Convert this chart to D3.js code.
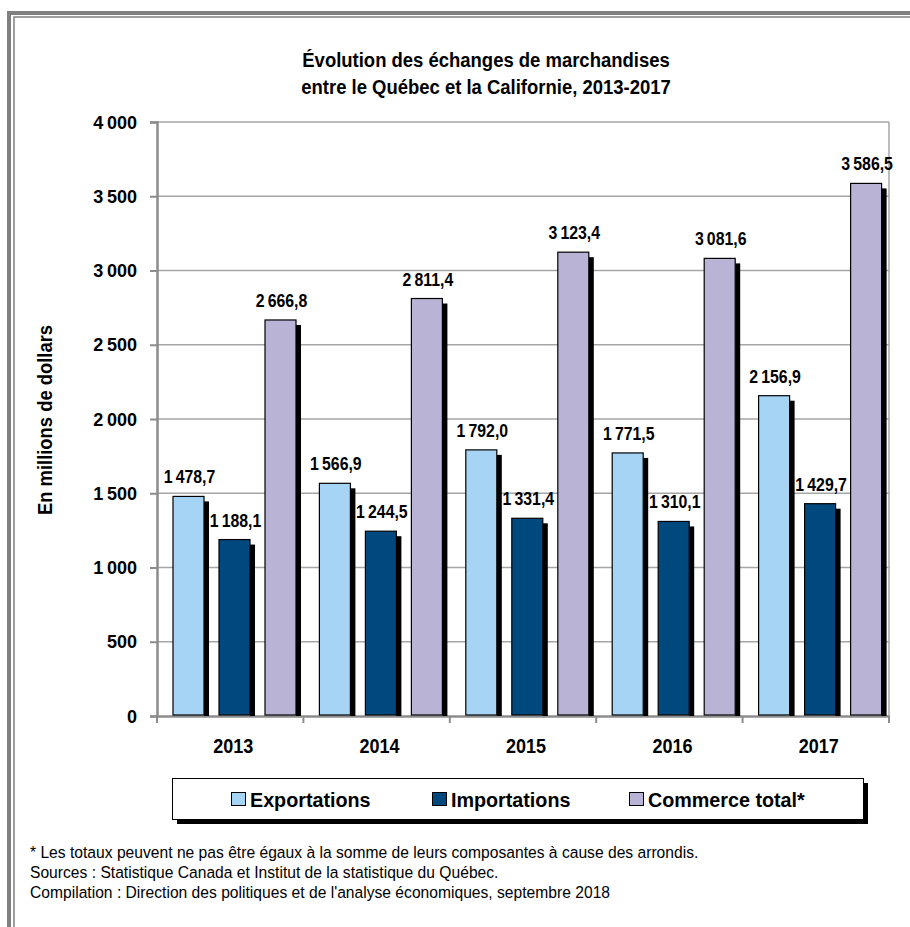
<!DOCTYPE html>
<html><head><meta charset="utf-8">
<script src="https://cdn.jsdelivr.net/npm/d3@7"></script>
<style>
body{margin:0;background:#fff;}
svg{display:block;}
text{font-family:"Liberation Sans Narrow","Arial Narrow","Liberation Sans",Arial,sans-serif;}
</style></head>
<body>
<svg id="c" width="910" height="927"></svg>
<script>
const years = ["2013","2014","2015","2016","2017"];
const seriesNames = ["Exportations","Importations","Commerce total*"];
const exportations = [1478.7,1566.9,1792.0,1771.5,2156.9];
const importations = [1188.1,1244.5,1331.4,1310.1,1429.7];
const commerceTotal = [2666.8,2811.4,3123.4,3081.6,3586.5];
const yTicks = [0,500,1000,1500,2000,2500,3000,3500,4000];
const colors = ["#a6d4f4","#00497e","#b9b3d5"];
const titleLines = ["Évolution des échanges de marchandises","entre le Québec et la Californie, 2013-2017"];
const notes = ["* Les totaux peuvent ne pas être égaux à la somme de leurs composantes à cause des arrondis.",
  "Sources : Statistique Canada et Institut de la statistique du Québec.",
  "Compilation : Direction des politiques et de l'analyse économiques, septembre 2018"];

const values = [exportations, importations, commerceTotal];
const loc = d3.formatLocale({decimal:",", thousands:"\u2009", grouping:[3], currency:["",""]});
const fmtTick = loc.format(",.0f");
const fmtVal = loc.format(",.1f");
const FONT = '"Liberation Sans Narrow","Arial Narrow","Liberation Sans",Arial,sans-serif';

// horizontally condense text (reference uses a narrow face)
function narrow(sel, sx){
  sel.each(function(){
    const t = d3.select(this);
    const x = +t.attr("x") || 0;
    t.attr("x", x/sx).attr("transform", `scale(${sx},1)`);
  });
}

const svg = d3.select("#c");
// outer frame
svg.append("path").attr("d","M9,927 V13 H910").attr("fill","none").attr("stroke","#808080").attr("stroke-width",4);
svg.append("path").attr("d","M14,927 V17 H910").attr("fill","none").attr("stroke","#808080").attr("stroke-width",1.5);

const L=157, R=889, T=122, B=716;
const x0 = d3.scaleBand().domain(years).range([L,R]);
const x1 = d3.scaleBand().domain(seriesNames).range([16,139]).paddingInner(15/46);
const y = d3.scaleLinear().domain([0,4000]).range([B,T]);

// title
const tsx = 0.88;
const tt = svg.append("text").attr("y",67).attr("text-anchor","middle")
  .attr("font-weight","bold").attr("font-size",21).attr("transform",`scale(${tsx},1)`);
tt.selectAll("tspan").data(titleLines).join("tspan")
  .attr("x",486/tsx).attr("dy",(d,i)=>i?27:0).text(d=>d);

// gridlines
svg.append("g").selectAll("line").data(yTicks.filter(d=>d>0)).join("line")
  .attr("x1",L).attr("x2",R).attr("y1",d=>y(d)).attr("y2",d=>y(d))
  .attr("stroke","#a6a6a6").attr("stroke-width",1.5);
svg.append("line").attr("x1",R).attr("x2",R).attr("y1",T).attr("y2",B).attr("stroke","#a6a6a6").attr("stroke-width",1.5);

// y axis
const ya = svg.append("g").attr("transform",`translate(${L},0)`)
  .call(d3.axisLeft(y).tickValues(yTicks).tickFormat(fmtTick).tickSize(7).tickPadding(13));
ya.select(".domain").attr("stroke","#8c8c8c").attr("stroke-width",2.5);
ya.selectAll(".tick line").attr("stroke","#8c8c8c").attr("stroke-width",2);
ya.selectAll("text").attr("font-size",19).attr("font-weight","bold").attr("fill","#000")
  .style("font-family",FONT).call(narrow,0.95);

// x axis
const xa = svg.append("g").attr("transform",`translate(0,${B})`)
  .call(d3.axisBottom(x0).tickSize(0).tickPadding(23));
xa.select(".domain").attr("stroke","#8c8c8c").attr("stroke-width",2.5);
xa.selectAll("text").attr("font-size",20).attr("font-weight","bold").attr("fill","#000")
  .attr("x",3).style("font-family",FONT).call(narrow,0.9);
svg.append("g").selectAll("line").data(d3.range(years.length+1)).join("line")
  .attr("x1",i=>L+i*x0.step()).attr("x2",i=>L+i*x0.step())
  .attr("y1",B).attr("y2",B+7).attr("stroke","#8c8c8c").attr("stroke-width",2);

// bars
const data = [];
years.forEach((yr,i)=>seriesNames.forEach((s,j)=>data.push({yr,s,j,v:values[j][i]})));
const bw = x1.bandwidth();
const g = svg.append("g");
g.selectAll("rect.sh").data(data).join("rect").attr("class","sh")
  .attr("x",d=>x0(d.yr)+x1(d.s)+bw).attr("y",d=>y(d.v)+5)
  .attr("width",5).attr("height",d=>B-y(d.v)-5).attr("fill","#000");
g.selectAll("rect.bar").data(data).join("rect").attr("class","bar")
  .attr("x",d=>x0(d.yr)+x1(d.s)).attr("y",d=>y(d.v))
  .attr("width",bw).attr("height",d=>B-y(d.v)-1)
  .attr("fill",d=>colors[d.j]).attr("stroke","#000").attr("stroke-width",1.2);
g.selectAll("text.lab").data(data).join("text").attr("class","lab")
  .attr("x",d=>x0(d.yr)+x1(d.s)+bw/2+1).attr("y",d=>y(d.v)-13)
  .attr("text-anchor","middle").attr("font-weight","bold").attr("font-size",18)
  .text(d=>fmtVal(d.v)).call(narrow,0.88);

// y title
svg.append("text").attr("transform","translate(52,420) rotate(-90) scale(0.92,1)").attr("text-anchor","middle")
  .attr("font-weight","bold").attr("font-size",20).text("En millions de dollars");

// legend
const lg = svg.append("g");
lg.append("rect").attr("x",177).attr("y",783).attr("width",691).attr("height",41).attr("fill","#000");
lg.append("rect").attr("x",172.5).attr("y",778.5).attr("width",691).attr("height",41).attr("fill","#fff").attr("stroke","#000").attr("stroke-width",1);
const lx = [231,432,629];
const li = lg.selectAll("g.it").data(seriesNames).join("g").attr("class","it")
  .attr("transform",(d,i)=>`translate(${lx[i]},799)`);
li.append("rect").attr("x",0.5).attr("y",-6.5).attr("width",14).attr("height",13)
  .attr("fill",(d,i)=>colors[i]).attr("stroke","#000").attr("stroke-width",1);
li.append("text").attr("x",19).attr("y",8).attr("font-weight","bold").attr("font-size",21).text(d=>d).call(narrow,0.94);

// notes
svg.append("g").selectAll("text").data(notes).join("text")
  .attr("x",30).attr("y",(d,i)=>858+i*20).attr("font-size",17).text(d=>d).call(narrow,0.92);
</script>
</body></html>
